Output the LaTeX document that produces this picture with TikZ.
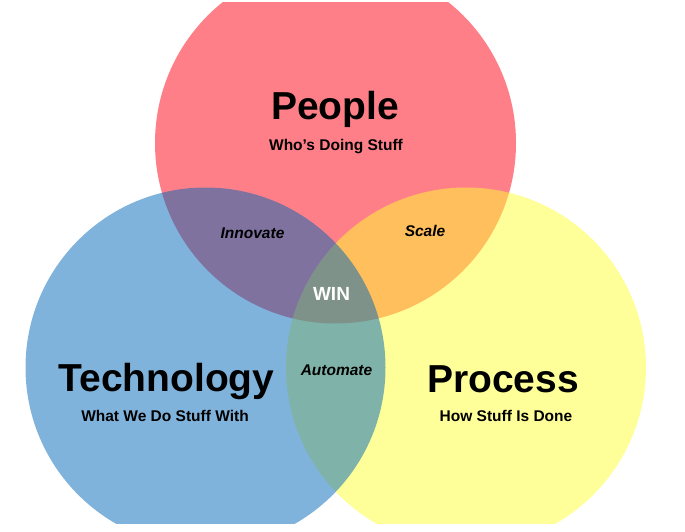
\documentclass[tikz,border=0pt]{standalone}
\usepackage{fontspec}
\setmainfont{Liberation Sans}
\definecolor{pred}{RGB}{255,0,19}
\definecolor{pblue}{RGB}{0,103,183}
\definecolor{pyellow}{RGB}{255,255,51}
\begin{document}
\begin{tikzpicture}[x=1pt,y=-1pt,
  blob/.style={fill opacity=0.5},
  big/.style={anchor=base,inner sep=0,font=\bfseries\fontsize{39}{39}\selectfont},
  sub/.style={anchor=base,inner sep=0,font=\bfseries\fontsize{15.5}{15.5}\selectfont},
  mix/.style={anchor=base,inner sep=0,font=\bfseries\itshape\fontsize{15.5}{15.5}\selectfont},
  win/.style={anchor=base,inner sep=0,text=white,font=\bfseries\fontsize{19}{19}\selectfont}]
\useasboundingbox (0,0) rectangle (685,531);
\begin{scope}
  \clip (0,2) rectangle (685,523);
  \fill[pred,blob] (335.5,143) circle[radius=180.5];
  \fill[pyellow,blob] (466,367.5) circle[radius=180];
  \fill[pblue,blob] (205.5,367.5) circle[radius=180];
\end{scope}
\node[big] (people) at (335,119.5) {People};
\node[sub] (peoplesub) at (336,150) {Who’s Doing Stuff};
\node[big] (tech) at (166.5,391.5) {Technology};
\node[sub] (techsub) at (165,421.5) {What We Do Stuff With};
\node[big] (proc) at (503,392) {Process};
\node[sub] (procsub) at (506,421) {How Stuff Is Done};
\node[mix] (innovate) at (252.5,238.5) {Innovate};
\node[mix] (scale) at (425,236.5) {Scale};
\node[mix] (automate) at (336.5,375) {Automate};
\node[win] (win) at (331.5,300) {WIN};
\end{tikzpicture}
\end{document}
